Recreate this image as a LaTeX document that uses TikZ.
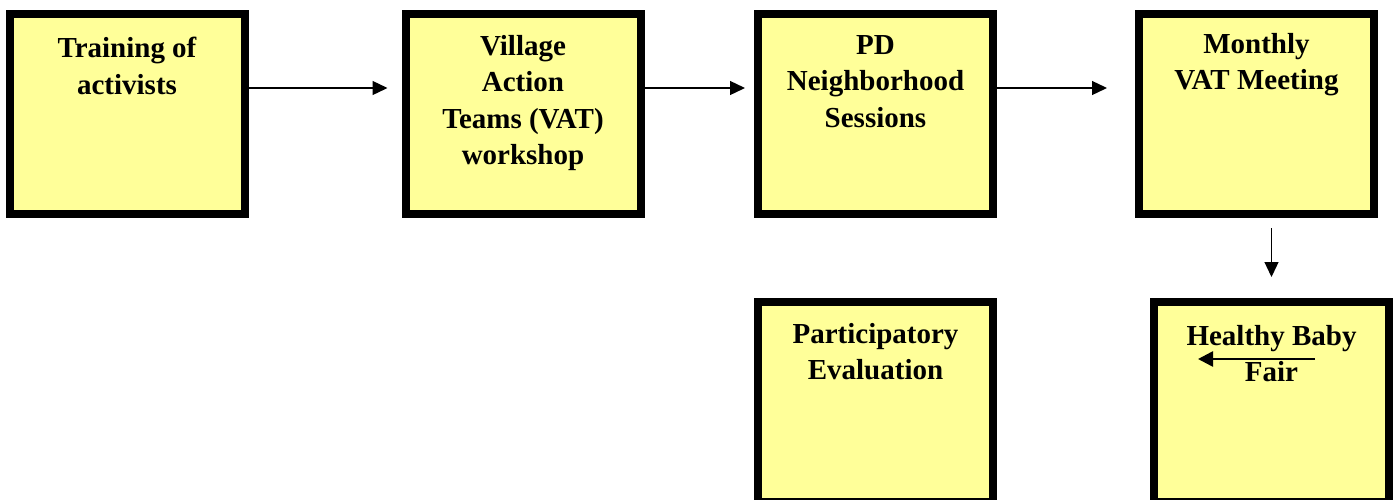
\documentclass[tikz,border=0pt]{standalone}
\usepackage{fontspec}
\setmainfont{Liberation Serif}
\usetikzlibrary{arrows.meta,calc}
\definecolor{boxfill}{HTML}{FFFF99}
\tikzset{
  stagebox/.style={draw=black, fill=boxfill, line width=8pt, outer sep=4pt,
    minimum width=235pt, minimum height=200pt, inner sep=0pt},
  stagetext/.style={anchor=north, align=center, inner sep=0pt,
    font=\fontsize{29}{36.5}\selectfont\bfseries},
  flow/.style={line width=1.3pt, -{Triangle[length=15pt,width=14pt]}},
  strayflow/.style={line width=2.6pt, -{Triangle[length=15pt,width=15pt]}}
}
\begin{document}
\begin{tikzpicture}[x=1pt,y=-1pt]
\useasboundingbox (0,0) rectangle (1393,499);
\clip (0,0) rectangle (1393,499);
\fill[white] (0,0) rectangle (1393,499);

% top row of stages
\node[stagebox] (b1) at (127,114) {};
\node[stagebox] (b2) at (523,114) {};
\node[stagebox] (b3) at (875.5,114) {};
\node[stagebox] (b4) at (1256.5,114) {};
% bottom row
\node[stagebox] (b5) at (875.5,402) {};
\node[stagebox] (b6) at (1271.5,402) {};

% labels
\node[stagetext] (t1) at ([yshift=-27pt]b1.north) {Training of\\activists};
\node[stagetext] (t2) at ([yshift=-25pt]b2.north) {Village\\Action\\Teams (VAT)\\workshop};
\node[stagetext] (t3) at ([yshift=-25pt]b3.north) {PD\\Neighborhood\\Sessions};
\node[stagetext] (t4) at ([yshift=-23pt]b4.north) {Monthly\\VAT Meeting};
\node[stagetext] (t5) at ([yshift=-25pt]b5.north) {Participatory\\Evaluation};
\node[stagetext] (t6) at ([yshift=-27pt]b6.north) {Healthy Baby\\Fair};

% connectors
\draw[flow, shorten >=14pt] ([yshift=26pt]b1.east) -- ([yshift=26pt]b2.west);
\draw[flow, shorten >=9pt]  ([yshift=26pt]b2.east) -- ([yshift=26pt]b3.west);
\draw[flow, shorten >=28pt] ([yshift=26pt]b3.east) -- ([yshift=26pt]b4.west);
\draw[flow, shorten <=10pt, shorten >=21pt] (b4.south -| b6.north) -- (b6.north);

% short arrow across the fair label
\coordinate (fs) at ($(b6.north)+(43.5,61)$);
\coordinate (fe) at ($(b6.north)+(-73.5,61)$);
\draw[strayflow] (fs) -- (fe);
\end{tikzpicture}
\end{document}
